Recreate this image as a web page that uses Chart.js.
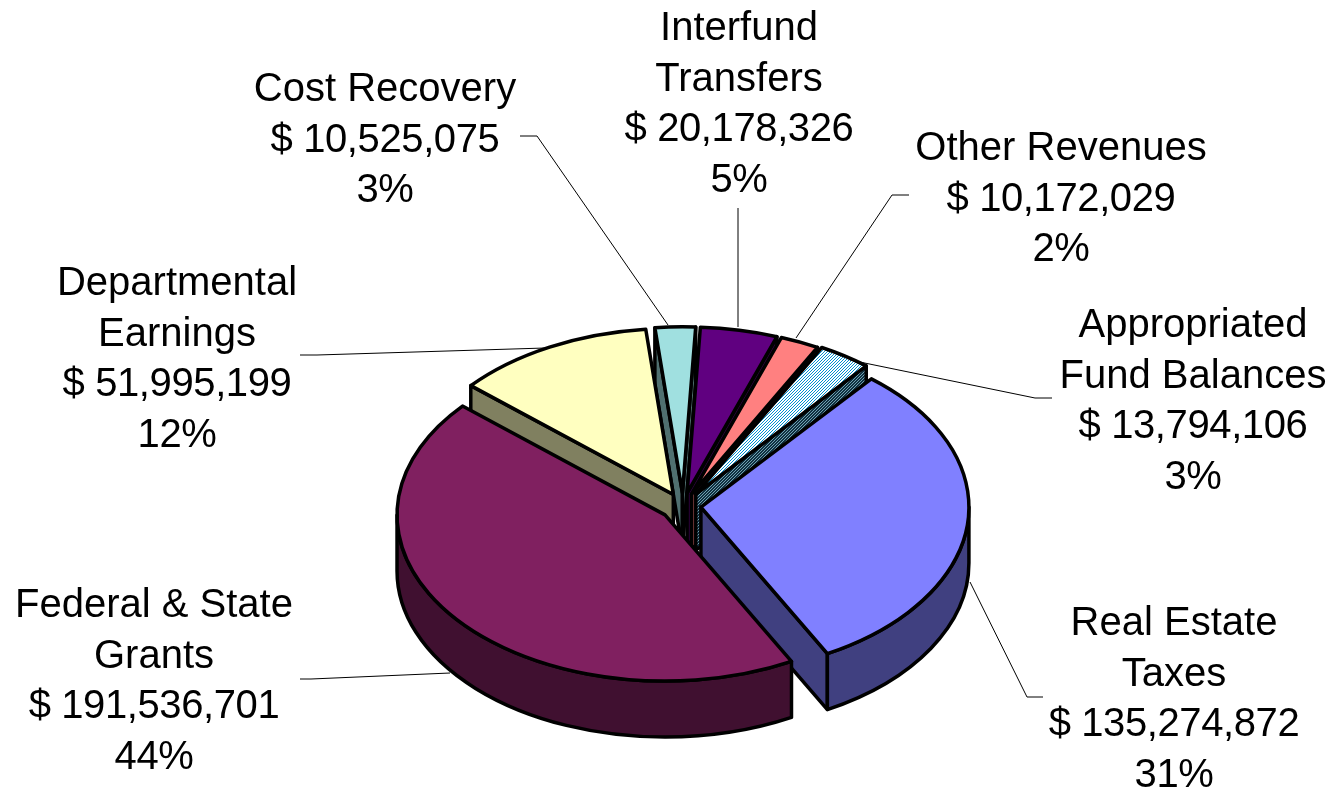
<!DOCTYPE html>
<html>
<head>
<meta charset="utf-8">
<title>Revenues</title>
<script src="https://cdn.jsdelivr.net/npm/chart.js@4"></script>
<style>
  html, body { margin: 0; padding: 0; background: #fff; }
  canvas { display: block; }
</style>
</head>
<body>
<canvas id="chartPie" width="1330" height="791"></canvas>
<script>
const categories = ['Real Estate Taxes', 'Federal & State Grants', 'Departmental Earnings', 'Cost Recovery', 'Interfund Transfers', 'Other Revenues', 'Appropriated Fund Balances'];
const montos = [135274872, 191536701, 51995199, 10525075, 20178326, 10172029, 13794106];
const porcentajes = [31, 44, 12, 3, 5, 2, 3];
const nombres = [['Real Estate', 'Taxes'], ['Federal & State', 'Grants'], ['Departmental', 'Earnings'], ['Cost Recovery'], ['Interfund', 'Transfers'], ['Other Revenues'], ['Appropriated', 'Fund Balances']];

const colores = ['#8080ff', '#802060', '#ffffc0', '#a0e0e0', '#600080', '#ff8080', null];
const coloresLado = ['#404080', '#401030', '#808060', '#507070', '#300040', '#804040', null];
const separaciones = [72, 92, 84, 84, 84, 84, 92];

// small slices left to right, then the big ones, the grants slice sits over everything
const ordenDibujo = [3, 4, 5, 6, 2, 0, 1];

// where each label block goes: center x, first line y, then the leader line
const etiquetas = [
    { x: 1174, y: 624, linea: [[1043, 697], [1027, 697], [970, 582]] },
    { x: 154, y: 606, linea: [[300, 679], [311, 679], [450, 673]] },
    { x: 177, y: 284, linea: [[300, 355], [317, 355], [545, 348]] },
    { x: 385, y: 90, linea: [[520, 136], [537, 136], [668, 325]] },
    { x: 739, y: 29, linea: [[738, 208], [738, 327]] },
    { x: 1061, y: 149, linea: [[909, 195], [892, 195], [796, 338]] },
    { x: 1193, y: 326, linea: [[1052, 398], [1035, 398], [850, 360]] }
];

const APLASTE = 0.62;
const GROSOR = 56;
const ALTO_LINEA = 50.6;

const hacerTrama = (fondo, tinta) => {
    const c = document.createElement('canvas');
    c.width = 3;
    c.height = 3;
    const g = c.getContext('2d');
    g.fillStyle = fondo;
    g.fillRect(0, 0, 3, 3);
    g.fillStyle = tinta;
    g.fillRect(0, 2, 1, 1);
    g.fillRect(1, 1, 1, 1);
    g.fillRect(2, 0, 1, 1);
    return g.createPattern(c, 'repeat');
};

const formatoMonto = (n) => '$ ' + n.toLocaleString('en-US');

const pastel3d = {
    id: 'pastel3d',
    beforeDatasetsDraw(chart) {
        const ctx = chart.ctx;
        const arcos = chart.getDatasetMeta(0).data;
        const tramaArriba = hacerTrama('#ffffff', '#0090d0');
        const tramaLado = hacerTrama('#103040', '#70a0b0');

        ctx.save();
        ctx.lineWidth = 3.5;
        ctx.lineJoin = 'round';
        ctx.strokeStyle = '#000';

        ordenDibujo.forEach((i) => {
            const a = arcos[i];
            const medio = (a.startAngle + a.endAngle) / 2;
            const sep = a.options.offset / 4;
            const cx = a.x + Math.cos(medio) * sep;
            const cy = a.y + Math.sin(medio) * sep * APLASTE;
            const rx = a.outerRadius;
            const ry = a.outerRadius * APLASTE;
            const punta = (ang) => [cx + Math.cos(ang) * rx, cy + Math.sin(ang) * ry];
            const lado = colores[i] ? coloresLado[i] : tramaLado;

            const paredRecta = (ang) => {
                const p = punta(ang);
                ctx.beginPath();
                ctx.moveTo(cx, cy);
                ctx.lineTo(p[0], p[1]);
                ctx.lineTo(p[0], p[1] + GROSOR);
                ctx.lineTo(cx, cy + GROSOR);
                ctx.closePath();
                ctx.fillStyle = lado;
                ctx.fill();
                ctx.stroke();
            };
            if (Math.cos(a.startAngle) < 0) paredRecta(a.startAngle);
            if (Math.cos(a.endAngle) > 0) paredRecta(a.endAngle);

            // rim wall, only the part of the arc that faces the viewer
            for (let k = -1; k <= 1; k++) {
                const ini = Math.max(a.startAngle, k * 2 * Math.PI);
                const fin = Math.min(a.endAngle, k * 2 * Math.PI + Math.PI);
                if (fin > ini) {
                    ctx.beginPath();
                    ctx.ellipse(cx, cy, rx, ry, 0, ini, fin);
                    ctx.ellipse(cx, cy + GROSOR, rx, ry, 0, fin, ini, true);
                    ctx.closePath();
                    ctx.fillStyle = lado;
                    ctx.fill();
                    ctx.stroke();
                }
            }

            ctx.beginPath();
            ctx.moveTo(cx, cy);
            ctx.ellipse(cx, cy, rx, ry, 0, a.startAngle, a.endAngle);
            ctx.closePath();
            ctx.fillStyle = colores[i] || tramaArriba;
            ctx.fill();
            ctx.stroke();
        });
        ctx.restore();
        return false;
    },
    afterDraw(chart) {
        const ctx = chart.ctx;
        ctx.save();
        ctx.strokeStyle = '#000';
        ctx.lineWidth = 1;
        etiquetas.forEach((et) => {
            ctx.beginPath();
            et.linea.forEach((p, j) => {
                if (j === 0) ctx.moveTo(p[0], p[1]);
                else ctx.lineTo(p[0], p[1]);
            });
            ctx.stroke();
        });
        ctx.fillStyle = '#000';
        ctx.font = '40px "Liberation Sans"';
        ctx.textAlign = 'center';
        ctx.textBaseline = 'middle';
        etiquetas.forEach((et, i) => {
            nombres[i].forEach((t, j) => {
                ctx.letterSpacing = '0px';
                ctx.fillText(t, et.x, et.y + j * ALTO_LINEA);
            });
            // the amounts run a little tighter than the names in the original
            const n = nombres[i].length;
            ctx.letterSpacing = '-0.4px';
            ctx.fillText(formatoMonto(montos[i]), et.x, et.y + n * ALTO_LINEA);
            ctx.fillText(porcentajes[i] + '%', et.x, et.y + (n + 1) * ALTO_LINEA);
        });
        ctx.restore();
    }
};

new Chart(document.getElementById('chartPie'), {
    type: 'pie',
    data: {
        labels: categories,
        datasets: [{ data: montos, borderWidth: 0, offset: separaciones }]
    },
    options: {
        responsive: false,
        animation: false,
        events: [],
        rotation: 39.5,
        radius: 268,
        layout: { padding: { left: 36, top: 221 } },
        plugins: { legend: { display: false }, tooltip: { enabled: false } }
    },
    plugins: [pastel3d]
});
</script>
</body>
</html>
